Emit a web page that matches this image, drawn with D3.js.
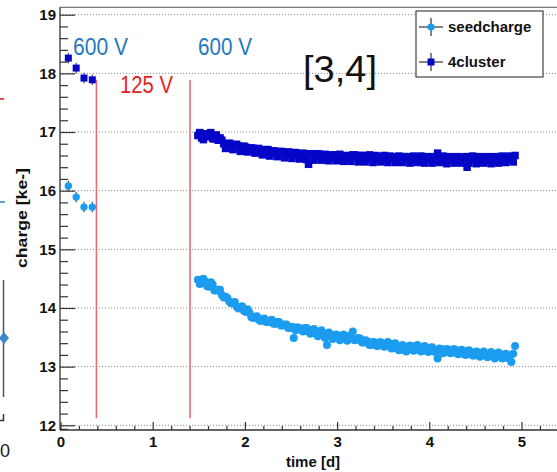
<!DOCTYPE html>
<html><head><meta charset="utf-8">
<script src="https://cdn.jsdelivr.net/npm/d3@7"></script>
<style>
html,body{margin:0;padding:0;background:#fff;}
svg{display:block;font-family:"Liberation Sans",Arial,Helvetica,sans-serif;}
</style></head>
<body><svg id="c" width="557" height="472"></svg>
<script>
// ---------- data ----------
const earlyTime = [0.085, 0.17, 0.255, 0.345];
const earlySeed = [16.08, 15.89, 15.72, 15.72];
const earlyCluster = [18.26, 18.09, 17.92, 17.89];

const mainTime = [1.49,1.53,1.57,1.61,1.65,1.69,1.73,1.77,1.81,1.85,1.89,1.93,1.97,2.01,2.05,2.09,2.13,2.17,2.21,2.25,
  2.29,2.33,2.37,2.41,2.45,2.49,2.53,2.57,2.61,2.65,2.69,2.73,2.77,2.81,2.85,2.89,2.93,2.97,3.01,3.05,
  3.09,3.13,3.17,3.21,3.25,3.29,3.33,3.37,3.41,3.45,3.49,3.53,3.57,3.61,3.65,3.69,3.73,3.77,3.81,3.85,
  3.89,3.93,3.97,4.01,4.05,4.09,4.13,4.17,4.21,4.25,4.29,4.33,4.37,4.41,4.45,4.49,4.53,4.57,4.61,4.65,
  4.69,4.73,4.77,4.81,4.85,4.89,4.93];
const seedcharge = [14.48,14.42,14.45,14.36,14.40,14.30,14.31,14.18,14.17,14.08,14.10,13.99,14.03,13.93,13.92,13.83,13.86,13.78,13.82,13.76,
  13.80,13.73,13.76,13.70,13.72,13.66,13.49,13.67,13.63,13.66,13.60,13.63,13.57,13.59,13.53,13.37,13.55,13.49,13.53,13.47,
  13.52,13.50,13.60,13.46,13.48,13.41,13.43,13.37,13.41,13.36,13.40,13.35,13.39,13.38,13.31,13.35,13.28,13.34,13.30,13.35,
  13.29,13.33,13.27,13.32,13.26,13.14,13.30,13.25,13.29,13.24,13.28,13.22,13.27,13.21,13.25,13.19,13.24,13.20,13.23,13.18,
  13.22,13.17,13.21,13.15,13.20,13.08,13.35];
const cluster4 = [16.94,16.90,16.97,16.92,16.89,16.95,16.90,16.80,16.76,16.79,16.73,16.76,16.71,16.74,16.68,16.72,16.66,16.69,16.65,16.70,
  16.64,16.67,16.62,16.66,16.61,16.65,16.60,16.63,16.59,16.62,16.45,16.61,16.58,16.62,16.56,16.60,16.57,16.61,16.55,16.59,
  16.56,16.58,16.61,16.57,16.60,16.55,16.59,16.56,16.60,16.54,16.58,16.55,16.59,16.54,16.57,16.53,16.58,16.55,16.52,16.57,
  16.54,16.58,16.53,16.56,16.52,16.64,16.55,16.51,16.56,16.53,16.57,16.52,16.55,16.40,16.56,16.52,16.57,16.53,16.56,16.51,
  16.55,16.52,16.56,16.53,16.57,16.54,16.60];

// interleaved measurements
const mainTime2 = [1.51,1.55,1.59,1.63,1.67,1.71,1.75,1.79,1.83,1.87,
  1.91,1.95,1.99,2.03,2.07,2.11,2.15,2.19,2.23,2.27,
  2.31,2.35,2.39,2.43,2.47,2.51,2.55,2.59,2.63,2.67,
  2.71,2.75,2.79,2.83,2.87,2.91,2.95,2.99,3.03,3.07,
  3.11,3.15,3.19,3.23,3.27,3.31,3.35,3.39,3.43,3.47,
  3.51,3.55,3.59,3.63,3.67,3.71,3.75,3.79,3.83,3.87,
  3.91,3.95,3.99,4.03,4.07,4.11,4.15,4.19,4.23,4.27,
  4.31,4.35,4.39,4.43,4.47,4.51,4.55,4.59,4.63,4.67,
  4.71,4.75,4.79,4.83,4.87,4.91];
const seedcharge2 = [14.41,14.50,14.37,14.44,14.30,14.31,14.22,14.19,14.11,14.09,
  14.02,14.01,13.95,13.98,13.84,13.85,13.80,13.81,13.76,13.78,
  13.73,13.76,13.70,13.72,13.66,13.68,13.62,13.66,13.60,13.66,
  13.56,13.64,13.52,13.62,13.49,13.58,13.47,13.55,13.45,13.55,
  13.44,13.54,13.45,13.49,13.41,13.45,13.37,13.42,13.35,13.42,
  13.34,13.42,13.31,13.40,13.28,13.37,13.26,13.36,13.27,13.37,
  13.26,13.35,13.25,13.33,13.25,13.31,13.23,13.30,13.23,13.30,
  13.21,13.29,13.20,13.28,13.19,13.26,13.17,13.26,13.16,13.25,
  13.14,13.24,13.14,13.22,13.13,13.22];
const cluster4_2 = [16.99,16.87,16.95,16.99,16.88,16.86,16.86,16.72,16.81,16.70,
  16.79,16.67,16.76,16.66,16.73,16.64,16.72,16.61,16.70,16.59,
  16.68,16.58,16.67,16.56,16.66,16.55,16.65,16.54,16.64,16.53,
  16.63,16.52,16.63,16.52,16.62,16.51,16.61,16.51,16.62,16.50,
  16.60,16.50,16.61,16.49,16.60,16.49,16.61,16.48,16.59,16.49,
  16.60,16.48,16.58,16.48,16.59,16.48,16.58,16.47,16.59,16.48,
  16.59,16.47,16.58,16.47,16.58,16.48,16.59,16.46,16.58,16.47,
  16.58,16.47,16.58,16.47,16.59,16.46,16.58,16.47,16.58,16.46,
  16.58,16.47,16.59,16.48,16.59,16.49];
const errEarly = 0.09, errMain = 0.05;

const yMajor = [12,13,14,15,16,17,18,19];
const xMajor = [0,1,2,3,4,5];
const yMinor = [11.94,12.2,12.4,12.6,12.8,13.2,13.4,13.6,13.8,14.2,14.4,14.6,14.8,15.2,15.4,15.6,15.8,16.2,16.4,16.6,16.8,17.2,17.4,17.6,17.8,18.2,18.4,18.6,18.8];
const xMinor = [0.2,0.4,0.6,0.8,1.2,1.4,1.6,1.8,2.2,2.4,2.6,2.8,3.2,3.4,3.6,3.8,4.2,4.4,4.6,4.8,5.2,5.4];
const hvLines = [0.39, 1.405];
const hvRange = [12.12, 17.89];
const legendItems = ["seedcharge","4cluster"];

// ---------- drawing ----------
(function(){
const svg = d3.select("#c");
const x = d3.scaleLinear().domain([0,5]).range([60.5,521.5]);
const y = d3.scaleLinear().domain([12,19]).range([425.3,14.7]);
const fL = 60, fB = 430, fT = 7.3, fR = 557;
const seedCol = "#1c9cf0", clusCol = "#0505c8";

// grid
svg.append("g").selectAll("line").data(yMajor).join("line")
  .attr("x1",fL).attr("x2",fR).attr("y1",d=>y(d)).attr("y2",d=>y(d))
  .attr("stroke","#8a8a8a").attr("stroke-width",1).attr("stroke-dasharray","1,2");
// top frame
svg.append("line").attr("x1",fL).attr("x2",fR).attr("y1",fT).attr("y2",fT).attr("stroke","#777").attr("stroke-width",1.2);

// HV change lines
svg.append("g").selectAll("line").data(hvLines).join("line")
  .attr("x1",d=>x(d)).attr("x2",d=>x(d)).attr("y1",y(hvRange[0])).attr("y2",y(hvRange[1]))
  .attr("stroke","#e2707a").attr("stroke-width",1.6);

// error bars + markers
function series(times, vals, err, col, shape, size){
  const pts = times.map((t,i)=>({t, v: vals[i]})).filter(p=>p.v!==undefined);
  const g = svg.append("g");
  g.selectAll("line").data(pts).join("line")
    .attr("x1",d=>x(d.t)).attr("x2",d=>x(d.t))
    .attr("y1",d=>y(d.v-err)).attr("y2",d=>y(d.v+err))
    .attr("stroke","#333").attr("stroke-width",1);
  if(shape==="circle"){
    g.selectAll("circle").data(pts).join("circle")
      .attr("cx",d=>x(d.t)).attr("cy",d=>y(d.v)).attr("r",size).attr("fill",col);
  } else {
    g.selectAll("rect").data(pts).join("rect")
      .attr("x",d=>x(d.t)-size/2).attr("y",d=>y(d.v)-size/2)
      .attr("width",size).attr("height",size).attr("fill",col);
  }
}
series(earlyTime, earlyCluster, errEarly, clusCol, "square", 7);
series(earlyTime, earlySeed, errEarly, seedCol, "circle", 3.7);
series(mainTime.concat(mainTime2), cluster4.concat(cluster4_2), errMain, clusCol, "square", 7.5);
series(mainTime.concat(mainTime2), seedcharge.concat(seedcharge2), errMain, seedCol, "circle", 4);

// axes
const yTicks = svg.append("g").attr("transform",`translate(${fL},0)`);
yTicks.call(d3.axisRight(y).tickValues(yMajor).tickSize(15).tickFormat(""));
yTicks.append("g").call(d3.axisRight(y).tickValues(yMinor).tickSize(8).tickFormat(""));
yTicks.selectAll(".domain").remove();
yTicks.selectAll("line").attr("stroke","#333").attr("stroke-width",1.2);
svg.append("line").attr("x1",fL).attr("x2",fL).attr("y1",fT).attr("y2",fB).attr("stroke","#333").attr("stroke-width",1.3);

const yLab = svg.append("g").attr("transform",`translate(${fL},0)`)
  .call(d3.axisLeft(y).tickValues(yMajor).tickSize(0).tickPadding(4).tickFormat(d3.format("d")));
yLab.select(".domain").remove();
yLab.selectAll("text").attr("font-family","'Liberation Sans Narrow','Liberation Sans',Arial,sans-serif")
  .attr("font-size",15).attr("font-weight","bold").attr("fill","#111");

const xAx = d3.scaleLinear().domain([0,5.4]).range([x(0), x(5.4)]);
const xTicks = svg.append("g").attr("transform",`translate(0,${fB})`);
xTicks.call(d3.axisTop(xAx).tickValues(xMajor).tickSize(8).tickFormat(""));
xTicks.append("g").call(d3.axisTop(xAx).tickValues(xMinor).tickSize(4).tickFormat(""));
xTicks.selectAll(".domain").remove();
xTicks.selectAll("line").attr("stroke","#333").attr("stroke-width",1.2);
svg.append("line").attr("x1",fL).attr("x2",fR).attr("y1",fB).attr("y2",fB).attr("stroke","#333").attr("stroke-width",1.3);

const xLab = svg.append("g").attr("transform",`translate(0,${fB})`)
  .call(d3.axisBottom(xAx).tickValues(xMajor).tickSize(0).tickPadding(6).tickFormat(d3.format("d")));
xLab.select(".domain").remove();
xLab.selectAll("text").attr("font-family","'Liberation Sans Narrow','Liberation Sans',Arial,sans-serif")
  .attr("font-size",15).attr("font-weight","bold").attr("fill","#111");

// axis titles
svg.append("text").attr("x",313).attr("y",467).attr("text-anchor","middle")
  .attr("font-size",15).attr("font-weight","bold").attr("fill","#111").text("time [d]");
svg.append("text").attr("transform","translate(27,218) rotate(-90)").attr("text-anchor","middle")
  .attr("font-size",15).attr("font-weight","bold").attr("fill","#111")
  .attr("textLength",100).attr("lengthAdjust","spacingAndGlyphs").text("charge [ke-]");

// annotations
function ann(tx, tX, tY, size, col, len){
  svg.append("text").attr("x",tX).attr("y",tY).attr("font-size",size).attr("fill",col)
    .attr("textLength",len).attr("lengthAdjust","spacingAndGlyphs").text(tx);
}
ann("600 V", 73, 55, 23, "#1f78c0", 55);
ann("600 V", 198, 55, 23, "#1f78c0", 54);
ann("125 V", 120, 93, 23, "#e4221f", 53);
ann("[3,4]", 303, 82, 37, "#111", 74);

// legend
const lg = svg.append("g");
lg.append("rect").attr("x",416).attr("y",11).attr("width",127).attr("height",66)
  .attr("fill","#fff").attr("stroke","#444").attr("stroke-width",1.2);
const ly = [27, 62];
legendItems.forEach((name,i)=>{
  const cy = ly[i];
  lg.append("line").attr("x1",419).attr("x2",443).attr("y1",cy).attr("y2",cy).attr("stroke","#333").attr("stroke-width",1.2);
  lg.append("line").attr("x1",431).attr("x2",431).attr("y1",cy-9).attr("y2",cy+9).attr("stroke","#333").attr("stroke-width",1.2);
  if(i===0) lg.append("circle").attr("cx",431).attr("cy",cy).attr("r",3.6).attr("fill",seedCol);
  else lg.append("rect").attr("x",431-3.5).attr("y",cy-3.5).attr("width",7).attr("height",7).attr("fill",clusCol);
  lg.append("text").attr("x",448).attr("y",cy+5).attr("font-size",15).attr("font-weight","bold").attr("fill","#111").text(name);
});

// remnants of neighbouring panel at the left edge
const edge = svg.append("g");
edge.append("line").attr("x1",0).attr("x2",4).attr("y1",99).attr("y2",99).attr("stroke","#e05050").attr("stroke-width",2);
edge.append("line").attr("x1",0).attr("x2",5).attr("y1",202).attr("y2",202).attr("stroke","#5ba0d8").attr("stroke-width",2);
edge.append("line").attr("x1",3.5).attr("x2",3.5).attr("y1",280).attr("y2",397).attr("stroke","#555").attr("stroke-width",1.5);
edge.append("path").attr("d","M4,332 L9,338 L4,344 L-1,338 Z").attr("fill","#3a86d0");
edge.append("path").attr("d","M3.5,414 V420.5 H0").attr("fill","none").attr("stroke","#333").attr("stroke-width",1.5);
edge.append("text").attr("x",0).attr("y",457).attr("font-size",18).attr("fill","#222").text("0");
})();
</script></body></html>
